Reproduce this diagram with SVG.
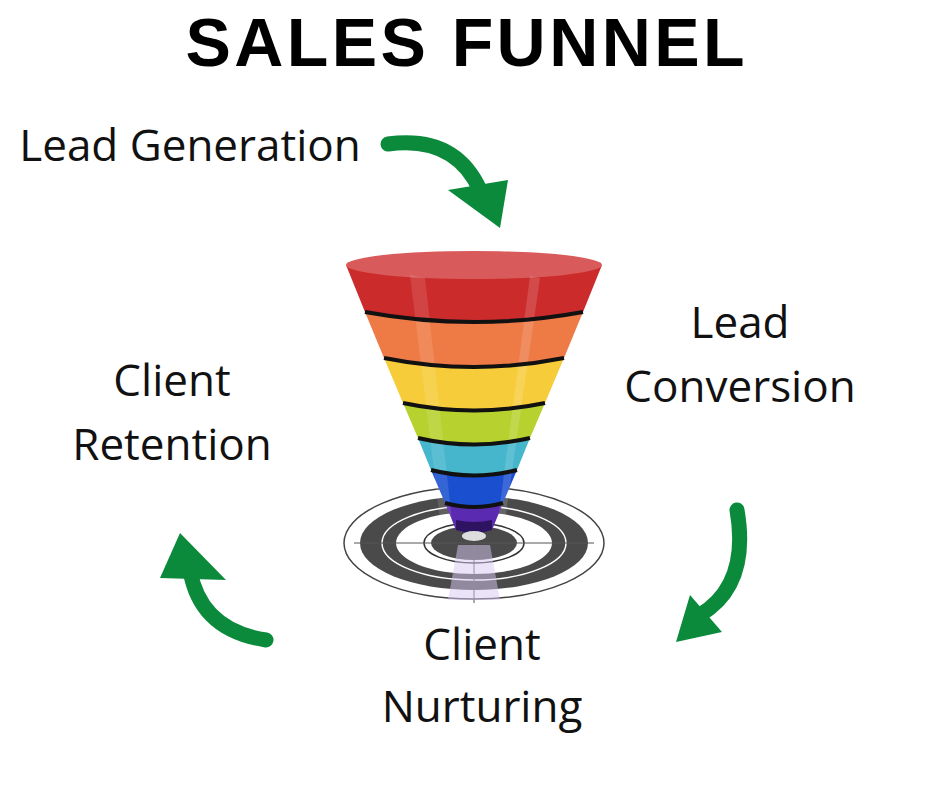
<svg xmlns="http://www.w3.org/2000/svg" width="940" height="788" viewBox="0 0 940 788">
<style>
.t{font-family:"Open Sans","Noto Sans",sans-serif;font-size:44px;fill:#111;text-anchor:middle}
.ar{fill:none;stroke:#0b8a3c;stroke-width:15;stroke-linecap:round}
.hd{fill:#0b8a3c}
.ln{fill:none;stroke:#111;stroke-width:4}
</style>
<rect width="940" height="788" fill="#fff"/>
<text x="468" y="66" font-family="Liberation Sans,Arial,sans-serif" font-weight="900" font-size="68" text-anchor="middle" letter-spacing="6" textLength="565" lengthAdjust="spacing" fill="#000">SALES FUNNEL</text>
<g id="lbl-gen"><text class="t" x="190" y="161">Lead Generation</text></g>
<g id="lbl-conv"><text class="t" x="740" y="338">Lead</text><text class="t" x="740" y="402">Conversion</text></g>
<g id="lbl-ret"><text class="t" x="172" y="396">Client</text><text class="t" x="172" y="460">Retention</text></g>
<g id="lbl-nur"><text class="t" x="482" y="660">Client</text><text class="t" x="482" y="722">Nurturing</text></g>
<g id="target">
<ellipse cx="474" cy="543" rx="130" ry="56" fill="none" stroke="#444" stroke-width="1.5"/>
<ellipse cx="474" cy="543" rx="114" ry="47" fill="#4a4a4a"/>
<ellipse cx="474" cy="543" rx="92" ry="37" fill="none" stroke="#fff" stroke-width="1.5"/>
<ellipse cx="474" cy="543" rx="78" ry="31" fill="#fff"/>
<ellipse cx="474" cy="543" rx="50" ry="20" fill="none" stroke="#333" stroke-width="1.5"/>
<ellipse cx="474" cy="543" rx="43" ry="17" fill="#4a4a4a"/>
<line x1="354" y1="543" x2="594" y2="543" stroke="#555" stroke-width="1"/>
<line x1="474" y1="490" x2="474" y2="603" stroke="#555" stroke-width="1"/>
<path d="M458,545 L490,545 L500,600 L448,600 Z" fill="#d8c8f0" opacity="0.5"/>
</g>
<g id="funnel">
<path d="M346,265 Q474,290 602,265 L583,312 Q474,332 365,312 Z" fill="#cc2b2b"/>
<path d="M365,312 Q474,332 583,312 L564,358 Q474,376 384,358 Z" fill="#ee7a45"/>
<path d="M384,358 Q474,376 564,358 L545,403 Q474,418 403,403 Z" fill="#f6cc3a"/>
<path d="M403,403 Q474,418 545,403 L530,438 Q474,451 418,438 Z" fill="#b7d22e"/>
<path d="M418,438 Q474,451 530,438 L517,470 Q474,481 431,470 Z" fill="#45b6cc"/>
<path d="M431,470 Q474,481 517,470 L503,503 Q474,511 445,503 Z" fill="#1a4fd0"/>
<path d="M445,503 Q474,511 503,503 L492,530 Q474,536 456,530 Z" fill="#5a2ab0"/>
<path d="M456,520 Q474,524 492,520 L492,530 Q474,536 456,530 Z" fill="#2e1360"/>
<ellipse cx="474" cy="265" rx="128" ry="14" fill="#d85a5a"/>
<path d="M410,275 L440,520 L452,520 L425,278 Z" fill="#fff" opacity="0.12"/>
<path d="M540,278 L505,520 L498,520 L530,276 Z" fill="#fff" opacity="0.15"/>
<ellipse cx="474" cy="536" rx="12" ry="5" fill="#ddd"/>
<path class="ln" d="M365,312 Q474,332 583,312"/>
<path class="ln" d="M384,358 Q474,376 564,358"/>
<path class="ln" d="M403,403 Q474,418 545,403"/>
<path class="ln" d="M418,438 Q474,451 530,438"/>
<path class="ln" d="M431,470 Q474,481 517,470"/>
<path class="ln" d="M445,503 Q474,511 503,503" stroke-width="3"/>
</g>
<g id="connectors">
<path class="ar" d="M388,144 Q455,135 480,190"/>
<polygon class="hd" points="448,190 508,180 500,228"/>
<path class="ar" d="M737,510 Q750,585 700,615"/>
<polygon class="hd" points="690,595 722,632 676,642"/>
<path class="ar" d="M266,640 Q200,630 190,570"/>
<polygon class="hd" points="160,578 180,533 226,580"/>
</g>
</svg>
